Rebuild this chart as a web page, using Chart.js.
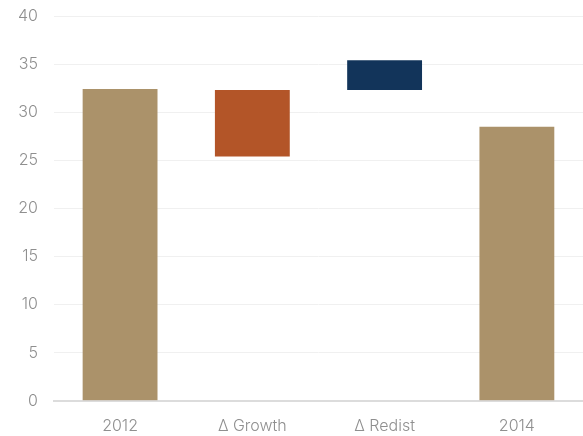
<!DOCTYPE html>
<html>
<head>
<meta charset="utf-8">
<script src="https://cdn.jsdelivr.net/npm/chart.js@4/dist/chart.umd.min.js"></script>
<style>
  html, body { margin: 0; padding: 0; background: #fff; }
</style>
</head>
<body>
<canvas id="waterfall" width="583" height="436"></canvas>
<script>
const categories = ['2012', '\u0394 Growth', '\u0394 Redist', '2014'];
const barStart = [0, 25.4, 32.3, 0];
const barEnd = [32.4, 32.3, 35.4, 28.5];
const barColors = ['#ab926a', '#b35528', '#12345a', '#ab926a'];
const yTicks = [0, 5, 10, 15, 20, 25, 30, 35, 40];

const font = { family: 'Inter, "Open Sans", sans-serif', size: 16, weight: 300 };

new Chart(document.getElementById('waterfall'), {
  type: 'bar',
  data: {
    labels: categories,
    datasets: [{
      data: barStart.map((s, i) => [s, barEnd[i]]),
      backgroundColor: barColors,
      borderWidth: 0,
      categoryPercentage: 1,
      barPercentage: 0.566,
    }],
  },
  options: {
    responsive: false,
    animation: false,
    layout: { padding: { top: 16, right: 0, bottom: -8, left: 2 } },
    plugins: { legend: { display: false }, tooltip: { enabled: false } },
    scales: {
      x: {
        grid: { display: false },
        border: { color: '#dcdcdc', width: 2 },
        ticks: { color: '#8f8f8f', font, padding: 8, maxRotation: 0 },
      },
      y: {
        min: 0,
        max: 40,
        afterBuildTicks: (axis) => { axis.ticks = yTicks.map(v => ({ value: v })); },
        // top label may overhang the padding
        afterFit: (axis) => { axis.paddingTop = 0; },
        grid: { color: '#f0f0f0', lineWidth: 1, drawTicks: false },
        border: { display: false },
        ticks: { color: '#8f8f8f', font, padding: 16 },
      },
    },
  },
});
</script>
</body>
</html>
